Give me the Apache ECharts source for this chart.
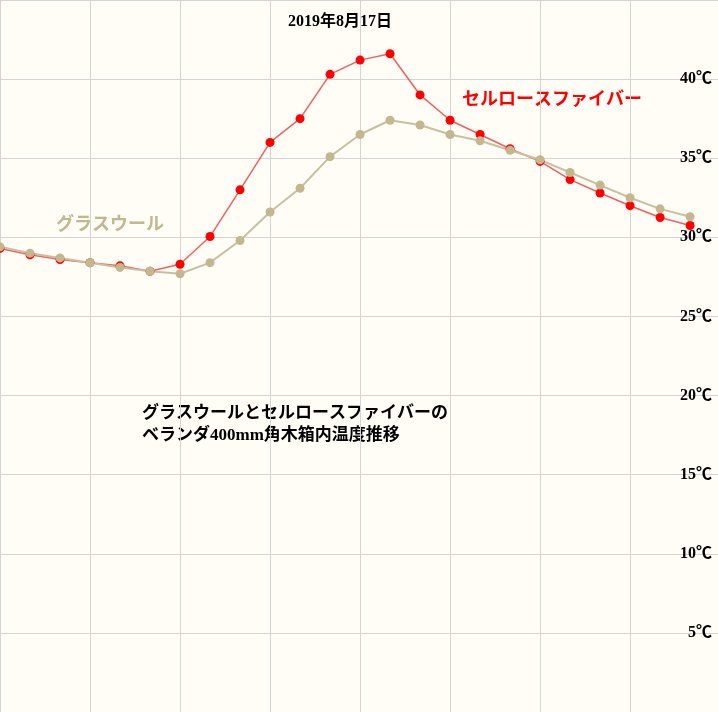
<!DOCTYPE html><html><head><meta charset="utf-8">
<script src="https://cdn.jsdelivr.net/npm/echarts@6/dist/echarts.min.js"></script>
<style>html,body{margin:0;background:#fffdf6}#c{width:718px;height:712px}</style></head><body><div id="c"></div>
<script>
const hours=[0,1,2,3,4,5,6,7,8,9,10,11,12,13,14,15,16,17,18,19,20,21,22,23];
const cellulose=[29.3,28.9,28.6,28.4,28.2,27.85,28.3,30.05,33.0,36.0,37.5,40.3,41.2,41.6,39.0,37.4,36.5,35.6,34.8,33.65,32.8,32.0,31.25,30.75];
const glasswool=[29.4,29.0,28.7,28.4,28.1,27.85,27.7,28.4,29.8,31.6,33.1,35.1,36.5,37.4,37.1,36.5,36.1,35.5,34.9,34.1,33.3,32.5,31.8,31.3];
const yTicks=[5,10,15,20,25,30,35,40];
const F='"Liberation Serif","Noto Sans CJK JP",serif';
const ch=echarts.init(document.getElementById('c'));
ch.setOption({
 backgroundColor:'#fffdf6',animation:false,
 grid:{left:0,right:0,top:0,bottom:0},
 xAxis:{type:'value',min:0,max:23.93,interval:3,axisLine:{show:false},axisTick:{show:false},axisLabel:{show:false},
  splitLine:{lineStyle:{color:'#d4d4d4'}}},
 yAxis:{type:'value',min:0,max:45,interval:5,position:'right',axisLine:{show:false},axisTick:{show:false},
  splitLine:{lineStyle:{color:'#d4d4d4'}},
  axisLabel:{inside:true,margin:6,fontFamily:F,fontSize:16,fontWeight:'bold',color:'#000',verticalAlign:'middle',padding:[4,0,0,0],
   formatter:v=>yTicks.includes(v)?v+'℃':''}},
 series:[
  {type:'line',data:hours.map((h,i)=>[h,cellulose[i]]),symbol:'circle',symbolSize:9,
   lineStyle:{color:'#f06060',width:1.5},itemStyle:{color:'#ff0000'}},
  {type:'line',data:hours.map((h,i)=>[h,glasswool[i]]),symbol:'circle',symbolSize:9,
   lineStyle:{color:'#c8c0a0',width:2},itemStyle:{color:'#c2b78e'}}
 ],
 graphic:[
  {type:'text',left:288,top:14,style:{text:'2019年8月17日',font:'bold 16px '+F,fill:'#000'}},
  {type:'text',left:462,top:91,style:{text:'セルロースファイバー',font:'bold 18px '+F,fill:'#ff0000'}},
  {type:'text',left:56,top:216,style:{text:'グラスウール',font:'bold 18px '+F,fill:'#c2b78e'}},
  {type:'text',left:142,top:403,style:{text:'グラスウールとセルロースファイバーの\nベランダ400mm角木箱内温度推移',font:'bold 17px '+F,lineHeight:22,fill:'#000'}}
 ]
});
</script></body></html>
